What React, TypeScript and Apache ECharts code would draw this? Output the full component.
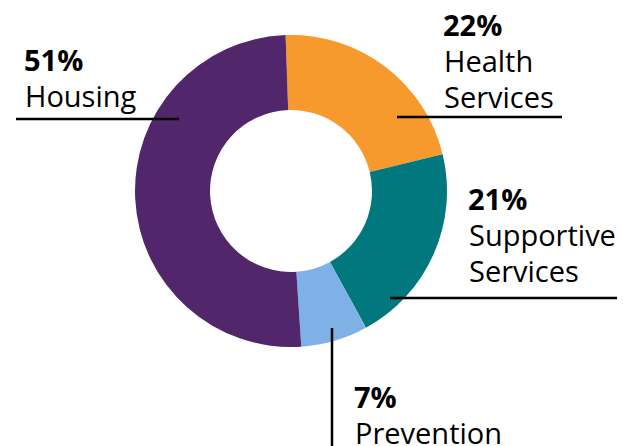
import React, { useEffect, useRef } from "react";
import * as echarts from "echarts";

const categories = ["Health Services", "Supportive Services", "Prevention", "Housing"];
const values = [22, 21, 7, 51];
const labelLines = [["Health", "Services"], ["Supportive", "Services"], ["Prevention"], ["Housing"]];
const colors = ["#F7992D", "#00787D", "#7EB2E6", "#51266B"];

// label anchor (left x, baseline of percent line) and leader line per category
const labelPos = [
  { x: 443, y: 35 },
  { x: 468, y: 209 },
  { x: 354, y: 407 },
  { x: 24, y: 70 },
];
const leaderLines = [
  [397, 117, 562, 117],
  [390, 298, 617, 298],
  [332, 328, 332, 446],
  [16, 119, 179, 119],
];

const FONT = '"Open Sans", "Noto Sans", sans-serif';
const SIZE = 29;
const LINE_H = 36;
const BASE_OFF = 11;

export default function App() {
  const ref = useRef<HTMLDivElement>(null);
  useEffect(() => {
    if (!ref.current) return;
    const chart = echarts.init(ref.current, null, { renderer: "svg" });
    const graphic: any[] = [];
    categories.forEach((c, i) => {
      const p = labelPos[i];
      graphic.push({
        type: "text",
        x: p.x,
        y: p.y - BASE_OFF,
        z: 10,
        style: {
          text: `${values[i]}%`,
          font: `bold ${SIZE}px ${FONT}`,
          fill: "#000",
          textAlign: "left",
          verticalAlign: "middle",
        },
      });
      labelLines[i].forEach((t, j) => {
        graphic.push({
          type: "text",
          x: p.x + 1,
          y: p.y + LINE_H * (j + 1) - BASE_OFF,
          z: 10,
          style: {
            text: t,
            font: `${SIZE}px ${FONT}`,
            fill: "#000",
            textAlign: "left",
            verticalAlign: "middle",
          },
        });
      });
      const l = leaderLines[i];
      graphic.push({
        type: "line",
        z: 10,
        shape: { x1: l[0], y1: l[1], x2: l[2], y2: l[3] },
        style: { stroke: "#000", lineWidth: 2.5 },
      });
    });
    chart.setOption({
      animation: false,
      backgroundColor: "#fff",
      series: [
        {
          type: "pie",
          center: [291, 191],
          radius: [81, 156],
          startAngle: 92,
          clockwise: true,
          label: { show: false },
          labelLine: { show: false },
          silent: true,
          itemStyle: { borderWidth: 0 },
          data: categories.map((c, i) => ({
            name: c,
            value: values[i],
            itemStyle: { color: colors[i] },
          })),
        },
      ],
      graphic,
    });
    return () => chart.dispose();
  }, []);
  return (
    <div
      ref={ref}
      style={{ position: "fixed", left: 0, top: 0, width: 623, height: 446 }}
    />
  );
}
